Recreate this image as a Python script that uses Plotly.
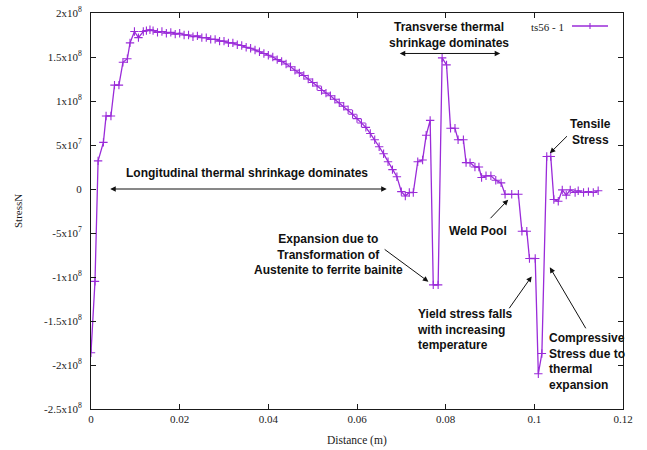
import plotly.graph_objects as go

# ---------------- data ----------------
distance_m = [
    0.0000, 0.0009, 0.0016, 0.0028, 0.0034, 0.0045, 0.0053, 0.0063, 0.0072, 0.0082,
    0.0088, 0.0098, 0.0107, 0.0118, 0.0125, 0.0133,
    0.014, 0.015, 0.016, 0.017, 0.018, 0.019, 0.020, 0.021, 0.022, 0.023,
    0.024, 0.025, 0.026, 0.027, 0.028, 0.029, 0.030, 0.031, 0.032, 0.033,
    0.034, 0.035, 0.036, 0.037, 0.038, 0.039, 0.040, 0.041, 0.042, 0.043,
    0.044, 0.045, 0.046, 0.047, 0.048, 0.049, 0.050, 0.051, 0.052, 0.053,
    0.054, 0.055, 0.056, 0.057, 0.058, 0.059, 0.060, 0.061, 0.062, 0.063,
    0.064, 0.065, 0.066, 0.067, 0.068, 0.069,
    0.0700, 0.0709, 0.0718, 0.0727, 0.0737, 0.0748, 0.0756, 0.0765, 0.0772, 0.0783,
    0.0792, 0.0802, 0.0811, 0.0821, 0.0828, 0.0840, 0.0846, 0.0855, 0.0866, 0.0875,
    0.0881, 0.0891, 0.0902, 0.0913, 0.0925, 0.0934, 0.0949, 0.0964, 0.0972, 0.0983,
    0.0989, 0.1002, 0.1009, 0.1017, 0.1028, 0.1037, 0.1044, 0.1054, 0.1063, 0.1072,
    0.1081, 0.1092, 0.1099, 0.1111, 0.1122, 0.1133, 0.1144,
]

stress_N = [
    -1.86e8, -1.05e8, 0.32e8, 0.53e8, 0.83e8, 0.83e8, 1.18e8, 1.18e8, 1.44e8, 1.48e8,
    1.66e8, 1.79e8, 1.72e8, 1.79e8, 1.80e8, 1.81e8,
    1.80e8, 1.78e8, 1.79e8, 1.77e8, 1.78e8, 1.76e8, 1.77e8, 1.75e8, 1.75e8, 1.73e8,
    1.74e8, 1.72e8, 1.72e8, 1.70e8, 1.70e8, 1.68e8, 1.68e8, 1.66e8, 1.66e8, 1.64e8,
    1.63e8, 1.61e8, 1.60e8, 1.58e8, 1.56e8, 1.54e8, 1.52e8, 1.50e8, 1.47e8, 1.45e8,
    1.42e8, 1.39e8, 1.35e8, 1.32e8, 1.29e8, 1.25e8, 1.21e8, 1.17e8, 1.12e8, 1.09e8,
    1.06e8, 1.02e8, 0.98e8, 0.94e8, 0.90e8, 0.85e8, 0.80e8, 0.75e8, 0.70e8, 0.63e8,
    0.56e8, 0.48e8, 0.40e8, 0.31e8, 0.22e8, 0.14e8,
    -0.03e8, -0.08e8, -0.04e8, -0.04e8, 0.31e8, 0.33e8, 0.61e8, 0.78e8, -1.09e8, -1.09e8,
    1.49e8, 1.41e8, 0.69e8, 0.69e8, 0.56e8, 0.56e8, 0.30e8, 0.30e8, 0.25e8, 0.25e8,
    0.13e8, 0.15e8, 0.15e8, 0.10e8, 0.07e8, -0.06e8, -0.06e8, -0.06e8, -0.48e8, -0.48e8,
    -0.79e8, -0.79e8, -2.10e8, -1.87e8, 0.37e8, 0.37e8, -0.12e8, -0.14e8, -0.01e8, -0.07e8,
    -0.01e8, -0.04e8, -0.02e8, -0.04e8, -0.03e8, -0.04e8, -0.02e8,
]

series_name = "ts56 - 1"

x_ticks = [0, 0.02, 0.04, 0.06, 0.08, 0.1, 0.12]
x_tick_labels = ["0", "0.02", "0.04", "0.06", "0.08", "0.1", "0.12"]
y_ticks = [2e8, 1.5e8, 1e8, 5e7, 0, -5e7, -1e8, -1.5e8, -2e8, -2.5e8]
y_tick_labels = ["2x10<sup>8</sup>", "1.5x10<sup>8</sup>", "1x10<sup>8</sup>", "5x10<sup>7</sup>", "0",
                 "-5x10<sup>7</sup>", "-1x10<sup>8</sup>", "-1.5x10<sup>8</sup>", "-2x10<sup>8</sup>",
                 "-2.5x10<sup>8</sup>"]

# ---------------- figure ----------------
PURPLE = "#9a2bd9"
SERIF = "Liberation Serif"
SANS = "Liberation Sans"
INK = "#1a1a1a"

fig = go.Figure()
fig.add_trace(go.Scatter(
    x=distance_m, y=stress_N, mode="lines+markers", name=series_name,
    line=dict(color=PURPLE, width=1.3),
    marker=dict(symbol="cross-thin", size=6, line=dict(color=PURPLE, width=1.1)),
    showlegend=False,
))

L, R, T, B = 91, 24, 13, 41
fig.update_layout(
    width=647, height=450,
    margin=dict(l=L, r=R, t=T, b=B, pad=0, autoexpand=False),
    paper_bgcolor="white", plot_bgcolor="white",
    font=dict(family=SERIF, size=11, color=INK),
    xaxis=dict(range=[0, 0.12], tickvals=x_ticks, ticktext=x_tick_labels, automargin=False,
               showgrid=False, zeroline=False, showline=True, linecolor=INK, linewidth=1,
               mirror="ticks", ticks="inside", ticklen=5, tickcolor=INK,
               tickfont=dict(family=SERIF, size=11, color=INK)),
    yaxis=dict(range=[-2.5e8, 2e8], tickvals=y_ticks, ticktext=y_tick_labels, automargin=False,
               showgrid=False, zeroline=False, showline=True, linecolor=INK, linewidth=1,
               mirror="ticks", ticks="inside", ticklen=5, tickcolor=INK,
               ticklabelstandoff=6,
               tickfont=dict(family=SERIF, size=11, color=INK)),
)

# axis titles
fig.add_annotation(text="Distance (m)", xref="paper", yref="paper", x=0.5, y=0,
                   yshift=-31, showarrow=False, yanchor="middle",
                   font=dict(family=SERIF, size=11.5, color=INK))
fig.add_annotation(text="StressN", xref="paper", yref="paper", x=0, y=0.5,
                   xshift=-73, textangle=-90, showarrow=False, xanchor="center",
                   font=dict(family=SERIF, size=11, color=INK))

# legend (gnuplot style: text then sample)
fig.add_annotation(text=series_name, xref="paper", yref="paper", x=1, y=1,
                   xshift=-57, yshift=-14, xanchor="right", yanchor="middle", showarrow=False,
                   font=dict(family=SERIF, size=11, color=INK))
lx0 = 1 - (623 - 572) / 532
lx1 = 1 - (623 - 608) / 532
lxc = 1 - (623 - 590) / 532
ly = 1 - (26 - 13) / 396
fig.add_shape(type="line", xref="paper", yref="paper", x0=lx0, x1=lx1, y0=ly, y1=ly,
              line=dict(color=PURPLE, width=1.3))
fig.add_shape(type="line", xref="paper", yref="paper", x0=lxc, x1=lxc,
              y0=ly - 3 / 396, y1=ly + 3 / 396, line=dict(color=PURPLE, width=1.1))

# text annotations
TXT = dict(family=SANS, size=12, color="#111")
def label(text, x, y, xanchor="center", align="center"):
    fig.add_annotation(text=text, x=x, y=y, xref="x", yref="y", showarrow=False,
                       xanchor=xanchor, yanchor="middle", align=align, font=TXT)

label("<b>Longitudinal thermal shrinkage dominates</b>", 0.0352, 0.18e8)
label("<b>Transverse thermal<br>shrinkage dominates</b>", 0.0808, 1.745e8)
label("<b>Tensile<br>Stress</b>", 0.1126, 0.65e8)
label("<b>Weld Pool</b>", 0.0873, -0.475e8)
label("<b>Expansion due to<br>Transformation of<br>Austenite to ferrite bainite</b>", 0.0535, -0.74e8)
label("<b>Yield stress falls<br>with increasing<br>temperature</b>", 0.0731, -1.6e8, "left", "left")
label("<b>Compressive<br>Stress due to<br>thermal<br>expansion</b>", 0.1029, -1.965e8, "left", "left")

# arrows
def arrow(hx, hy, tx, ty, both=False):
    fig.add_annotation(x=hx, y=hy, ax=tx, ay=ty, xref="x", yref="y", axref="x", ayref="y",
                       text="", showarrow=True, arrowhead=2, arrowsize=1.1, arrowwidth=1,
                       arrowcolor="#111", arrowside="end+start" if both else "end")

arrow(0.0667, 0.0, 0.0040, 0.0, both=True)
arrow(0.0923, 1.54e8, 0.0693, 1.54e8, both=True)
arrow(0.1035, 0.406e8, 0.1077, 0.617e8)
arrow(0.0941, -0.122e8, 0.0898, -0.349e8)
arrow(0.0761, -1.053e8, 0.0659, -0.674e8)
arrow(0.0994, -0.993e8, 0.0941, -1.372e8)
arrow(0.1035, -0.89e8, 0.1118, -1.6e8)

fig.write_html("out.html")
